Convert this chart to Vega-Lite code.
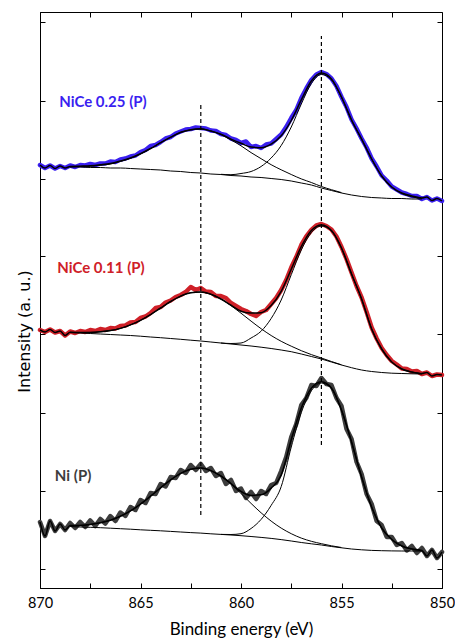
{
"$schema":"https://vega.github.io/schema/vega-lite/v6.json",
"width":402,"height":576,
"autosize":{"type":"none"},
"padding":{"left":40,"top":12,"right":13,"bottom":51},
"config":{"font":"Lato","view":{"stroke":"#000","strokeWidth":1},"axis":{"grid":false,"domainColor":"#000","tickColor":"#000","labelColor":"#000","titleColor":"#000","labelFont":"Lato","titleFont":"Lato","labelFontSize":14.5,"titleFontSize":17,"titleFontWeight":"normal","tickSize":-5,"tickWidth":1,"domainWidth":1}},
"datasets":{
"s":[
{"e":870,"br":423,"rr":258,"gr":66,"bf":423,"rf":258,"gf":66},
{"e":869.75,"br":420,"rr":256,"gr":52,"bf":420,"rf":256,"gf":52},
{"e":869.5,"br":422.5,"rr":258.5,"gr":67,"bf":422.5,"rf":258.5,"gf":67},
{"e":869.25,"br":419.5,"rr":255.5,"gr":57,"bf":419.5,"rf":255.5,"gf":57},
{"e":869,"br":422,"rr":257,"gr":64,"bf":422,"rf":257,"gf":64},
{"e":868.75,"br":420,"rr":252.5,"gr":58,"bf":420,"rf":252.5,"gf":58},
{"e":868.5,"br":422.5,"rr":256.5,"gr":65,"bf":421.5,"rf":255.7,"gf":62.4,"bb":421,"rb":255.5,"gb":61.5,"b1":421.3,"r1":255.7,"g1":62.4},
{"e":868.25,"br":421,"rr":255,"gr":60},
{"e":868,"br":423,"rr":257,"gr":66,"bf":421.8,"rf":255.5,"gf":62.6,"bb":421,"rb":255,"gb":61,"b1":421.6,"r1":255.5,"g1":62.6},
{"e":867.75,"br":422.5,"rr":256,"gr":61},
{"e":867.5,"br":424,"rr":258,"gr":67.5,"bf":422.2,"rf":255.6,"gf":63.6,"bb":420.5,"rb":254.5,"gb":60.7,"b1":421.7,"r1":255.6,"g1":63.6},
{"e":867.25,"br":423,"rr":257,"gr":62},
{"e":867,"br":424.5,"rr":259,"gr":69,"bf":423.2,"rf":256.2,"gf":65.2,"bb":420.5,"rb":254,"gb":60.3,"b1":422.8,"r1":256.2,"g1":65.2},
{"e":866.75,"br":424.5,"rr":258,"gr":64.5},
{"e":866.5,"br":426.5,"rr":260,"gr":72,"bf":424.5,"rf":257.4,"gf":67.8,"bb":420,"rb":253.5,"gb":59.8,"b1":423.9,"r1":257.4,"g1":67.8},
{"e":866.25,"br":426,"rr":259.5,"gr":67},
{"e":866,"br":428.5,"rr":262,"gr":75.5,"bf":427,"rf":259.6,"gf":71.7,"bb":420,"rb":253,"gb":59.3,"b1":426.6,"r1":259.6,"g1":71.7},
{"e":865.75,"br":429.5,"rr":262.5,"gr":72},
{"e":865.5,"br":431.5,"rr":265.5,"gr":81,"bf":430,"rf":263.1,"gf":77.1,"bb":419.5,"rb":252.5,"gb":58.8,"b1":429.7,"r1":263.1,"g1":77.1},
{"e":865.25,"br":432.5,"rr":266,"gr":78},
{"e":865,"br":436,"rr":270,"gr":88,"bf":434.3,"rf":267.7,"gf":83.9,"bb":419,"rb":251.8,"gb":58.2,"b1":434.1,"r1":267.7,"g1":83.9},
{"e":864.75,"br":438,"rr":271.5,"gr":85},
{"e":864.5,"br":442,"rr":275,"gr":95,"bf":439.5,"rf":273.4,"gf":91.8,"bb":418.5,"rb":251,"gb":57.7,"b1":439.4,"r1":273.4,"g1":91.8},
{"e":864.25,"br":443,"rr":280,"gr":94},
{"e":864,"br":446,"rr":281,"gr":104,"bf":445.3,"rf":280,"gf":100.2,"bb":418,"rb":250.3,"gb":57.2,"b1":445.3,"r1":280,"g1":100.2},
{"e":863.75,"br":449.5,"rr":285.5,"gr":101.5},
{"e":863.5,"br":451,"rr":287.5,"gr":111,"bf":450.8,"rf":286.5,"gf":108.1,"bb":417,"rb":249.5,"gb":56.6,"b1":450.7,"r1":286.5,"g1":108.1},
{"e":863.25,"br":454.5,"rr":291,"gr":110},
{"e":863,"br":456.5,"rr":293,"gr":118,"bf":455.7,"rf":291.9,"gf":114.6,"bb":416.5,"rb":248.7,"gb":56,"b1":455.6,"r1":291.9,"g1":114.6},
{"e":862.75,"br":458.5,"rr":296,"gr":115},
{"e":862.5,"br":459,"rr":301,"gr":123,"bf":458.3,"rf":295.3,"gf":118.7,"bb":415.5,"rb":247.8,"gb":55.4,"b1":458.2,"r1":295.3,"g1":118.7},
{"e":862.25,"br":460.5,"rr":298,"gr":118},
{"e":862,"br":460,"rr":300,"gr":124,"bf":459.2,"rf":296,"gf":119.9,"bb":415,"rb":247,"gb":54.9,"b1":459,"r1":296,"g1":119.9},
{"e":861.75,"br":459.5,"rr":296.5,"gr":117},
{"e":861.5,"br":457.5,"rr":296,"gr":120,"bf":457,"rf":293.7,"gf":117.4,"bb":414,"rb":246,"gb":54.2,"b1":457,"r1":293.7,"g1":117.4},
{"e":861.25,"br":457,"rr":292,"gr":112},
{"e":861,"br":454,"rr":292,"gr":115,"bf":453.7,"rf":289,"gf":112,"bb":413.5,"rb":245,"gb":53.6,"b1":453.5,"r1":289,"g1":112,"b2":413.7,"r2":245,"g2":53.6},
{"e":860.75,"br":453,"rr":290,"gr":104},
{"e":860.5,"br":449.5,"rr":285,"gr":108,"bf":448.9,"rf":282.9,"gf":104.5,"bb":412.5,"rb":244,"gb":53,"b1":448.1,"r1":282.4,"g1":104,"b2":413.3,"r2":244.5,"g2":53.5},
{"e":860.25,"br":448,"rr":282,"gr":97},
{"e":860,"br":445,"rr":279,"gr":99.5,"bf":444.7,"rf":276.8,"gf":96.5,"bb":412,"rb":243,"gb":52.3,"b1":442.2,"r1":274.8,"g1":94.5,"b2":414.5,"r2":245,"g2":54.3},
{"e":859.75,"br":446.5,"rr":277,"gr":90},
{"e":859.5,"br":441,"rr":274,"gr":96,"bf":440.9,"rf":274.9,"gf":92.6,"bb":411,"rb":242,"gb":51.5,"b1":435.4,"r1":266.9,"g1":84.6,"b2":416.5,"r2":250,"g2":59.5},
{"e":859.25,"br":442,"rr":272,"gr":89},
{"e":859,"br":440,"rr":276,"gr":97,"bf":440.3,"rf":275.3,"gf":93.2,"bb":410.5,"rb":240.8,"gb":50.6,"b1":429.3,"r1":259.3,"g1":75.2,"b2":421.5,"r2":256.8,"g2":68.6},
{"e":858.75,"br":443.5,"rr":278,"gr":94},
{"e":858.5,"br":444.5,"rr":284,"gr":103,"bf":443.8,"rf":282.5,"gf":99.9,"bb":409.5,"rb":239.5,"gb":49.6,"b1":423.3,"r1":252.5,"g1":66.9,"b2":430,"r2":269.5,"g2":82.6},
{"e":858.25,"br":449,"rr":290,"gr":105},
{"e":858,"br":453.5,"rr":298,"gr":117,"bf":452.2,"rf":296.7,"gf":112.9,"bb":408.5,"rb":238,"gb":48.4,"b1":418.2,"r1":246.7,"g1":59.9,"b2":442.5,"r2":288,"g2":101.4},
{"e":857.75,"br":461,"rr":308,"gr":131},
{"e":857.5,"br":470,"rr":320.5,"gr":151,"bf":467.5,"rf":318.8,"gf":148.3,"bb":407,"rb":236.3,"gb":47,"b1":413.5,"r1":241.8,"g1":54.3,"b2":461,"r2":313.3,"g2":141},
{"e":857.25,"br":478,"rr":331,"gr":164},
{"e":857,"br":490,"rr":343,"gr":183,"bf":488.1,"rf":341.3,"gf":179.9,"bb":405,"rb":234,"gb":45.5,"b1":409.1,"r1":237.3,"g1":49.9,"b2":484,"r2":338,"g2":175.5},
{"e":856.75,"br":499.5,"rr":351.5,"gr":190},
{"e":856.5,"br":508,"rr":358,"gr":203,"bf":507,"rf":357.4,"gf":199.7,"bb":403,"rb":231.5,"gb":44.2,"b1":405.5,"r1":233.4,"g1":46.7,"b2":504.5,"r2":355.5,"g2":197.2},
{"e":856.25,"br":513.5,"rr":362.5,"gr":202},
{"e":856,"br":516,"rr":364,"gr":210,"bf":515,"rf":363,"gf":206.3,"bb":400,"rb":229,"gb":43,"b1":401.5,"r1":230,"g1":44.3,"b2":513.5,"r2":362,"g2":205},
{"e":855.75,"br":514,"rr":362,"gr":204},
{"e":855.5,"br":509.5,"rr":358.5,"gr":203,"bf":509,"rf":357.5,"gf":200,"bb":397.5,"rb":226,"gb":41.5,"b1":398.3,"r1":226.5,"g1":42.2,"b2":508.2,"r2":357,"g2":199.3},
{"e":855.25,"br":502,"rr":351.5,"gr":190},
{"e":855,"br":491,"rr":341,"gr":182,"bf":491,"rf":340,"gf":178,"bb":395,"rb":223,"gb":40.2,"b1":395.4,"r1":223.2,"g1":40.5,"b2":490.6,"r2":339.8,"g2":177.7},
{"e":854.75,"br":481,"rr":329,"gr":159},
{"e":854.5,"br":468.5,"rr":315.5,"gr":149,"bf":468,"rf":314,"gf":146,"bb":393,"rb":220.3,"gb":39,"b2":467.8,"r2":314,"g2":146},
{"e":854.25,"br":459.5,"rr":302,"gr":126},
{"e":854,"br":449.5,"rr":290.5,"gr":114,"bf":449,"rf":289,"gf":111,"bb":391.5,"rb":218,"gb":38.2,"b2":448.9,"r2":289,"g2":111},
{"e":853.75,"br":440.5,"rr":276,"gr":94},
{"e":853.5,"br":429.5,"rr":260.5,"gr":84,"bf":429,"rf":259,"gf":81,"bb":390.5,"rb":216.5,"gb":37.6,"b2":429,"r2":259,"g2":81},
{"e":853.25,"br":421.5,"rr":249.5,"gr":67},
{"e":853,"br":412.5,"rr":240,"gr":63,"bf":412,"rf":239,"gf":60,"bb":390,"rb":215.5,"gb":37.3,"b2":412,"r2":239,"g2":60},
{"e":852.75,"br":407.5,"rr":233,"gr":51},
{"e":852.5,"br":401.5,"rr":227,"gr":51,"bf":401,"rf":226,"gf":48.5,"bb":389.5,"rb":214.8,"gb":37.1,"b2":400.8,"r2":226,"g2":48.5},
{"e":852.25,"br":398.5,"rr":223.5,"gr":43},
{"e":852,"br":395.5,"rr":219.5,"gr":45,"bf":395,"rf":219,"gf":42,"bb":389.5,"rb":214.5,"gb":37,"b2":394.5,"r2":219,"g2":42},
{"e":851.75,"br":394,"rr":219,"gr":37.5},
{"e":851.5,"br":392,"rr":216.5,"gr":42,"bf":392,"rf":216,"gf":39,"bb":389,"rb":214.2,"gb":37,"b2":391.2,"r2":216,"g2":39},
{"e":851.25,"br":392,"rr":217,"gr":35},
{"e":851,"br":389,"rr":214,"gr":40,"bf":390,"rf":214.5,"gf":37.5,"bb":389,"rb":214,"gb":37,"b2":389.5,"r2":214.3,"g2":37.3},
{"e":850.75,"br":391,"rr":215.5,"gr":32,"bf":391,"rf":215.5,"gf":32},
{"e":850.5,"br":387.5,"rr":212,"gr":38,"bf":387.5,"rf":212,"gf":38},
{"e":850.25,"br":389.5,"rr":213.5,"gr":30,"bf":389.5,"rf":213.5,"gf":30},
{"e":850,"br":387,"rr":213,"gr":36,"bf":387,"rf":213,"gf":36}
],
"lab":[
{"e":869.04,"h":486,"t":"NiCe 0.25 (P)","k":"br"},
{"e":869.14,"h":320,"t":"NiCe 0.11 (P)","k":"rr"},
{"e":869.26,"h":112,"t":"Ni (P)","k":"gr"}
],
"dash":[
{"e":862,"y1":73,"y2":485},
{"e":856,"y1":143,"y2":552}
]
},
"resolve":{"axis":{"x":"independent","y":"independent"}},
"layer":[
{"data":{"name":"s"},
 "transform":[{"fold":["br","rr","gr"],"as":["k","v"]},{"filter":"isValid(datum.v)"}],
 "mark":{"type":"line","strokeJoin":"round","strokeCap":"round"},
 "encoding":{
  "x":{"field":"e","type":"quantitative","scale":{"domain":[850,870],"reverse":true,"nice":false,"zero":false},
       "axis":{"title":"Binding energy (eV)","values":[870,867.5,865,862.5,860,857.5,855,852.5,850],"labelExpr":"datum.value % 5 == 0 ? datum.label : ''","labelPadding":13,"labelFlush":false,"labelOverlap":false,"titleY":46,"titleBaseline":"alphabetic"}},
  "y":{"field":"v","type":"quantitative","scale":{"domain":[0,576],"nice":false,"zero":false},
       "axis":{"title":"Intensity (a. u.)","labels":false,"values":[19.5,97.5,175.5,253.5,331.5,409.5,487.5,565.5],"titleFont":"DejaVu Sans","titleFontSize":16,"titleX":-10.5,"titleY":319,"titleBaseline":"alphabetic","titleAlign":"center","titleAngle":-90}},
  "color":{"field":"k","type":"nominal","scale":{"domain":["br","rr","gr"],"range":["#3a1ff0","#cf2028","#3d3d3d"]},"legend":null},
  "strokeWidth":{"field":"k","type":"nominal","scale":{"domain":["br","rr","gr"],"range":[4.5,4.5,6.5]},"legend":null}
 }},
{"data":{"name":"s"},
 "transform":[{"fold":["bb","b1","b2","rb","r1","r2","gb","g1","g2"],"as":["k","v"]},{"filter":"isValid(datum.v)"}],
 "mark":{"type":"line","strokeWidth":1,"color":"#000","interpolate":"monotone"},
 "encoding":{
  "x":{"field":"e","type":"quantitative","axis":null},
  "y":{"field":"v","type":"quantitative","axis":null},
  "detail":{"field":"k"}
 }},
{"data":{"name":"s"},
 "transform":[{"fold":["bf","rf","gf"],"as":["k","v"]},{"filter":"isValid(datum.v)"}],
 "mark":{"type":"line","strokeWidth":1.5,"color":"#000","interpolate":"monotone"},
 "encoding":{
  "x":{"field":"e","type":"quantitative","axis":null},
  "y":{"field":"v","type":"quantitative","axis":null},
  "detail":{"field":"k"}
 }},
{"data":{"name":"dash"},
 "mark":{"type":"rule","color":"#000","strokeWidth":1.2,"strokeDash":[4,3]},
 "encoding":{
  "x":{"field":"e","type":"quantitative","axis":{"orient":"top","title":null,"labels":false,"domain":false,"values":[870,867.5,865,862.5,860,857.5,855,852.5,850]}},
  "y":{"field":"y1","type":"quantitative","axis":{"orient":"right","title":null,"labels":false,"domain":false,"values":[19.5,97.5,175.5,253.5,331.5,409.5,487.5,565.5]}},
  "y2":{"field":"y2"}
 }},
{"data":{"name":"lab"},
 "mark":{"type":"text","align":"left","baseline":"middle","font":"Lato","fontSize":15,"fontWeight":"bold"},
 "encoding":{
  "x":{"field":"e","type":"quantitative","axis":null},
  "y":{"field":"h","type":"quantitative","axis":null},
  "text":{"field":"t"},
  "color":{"field":"k","type":"nominal","legend":null}
 }}
]
}
